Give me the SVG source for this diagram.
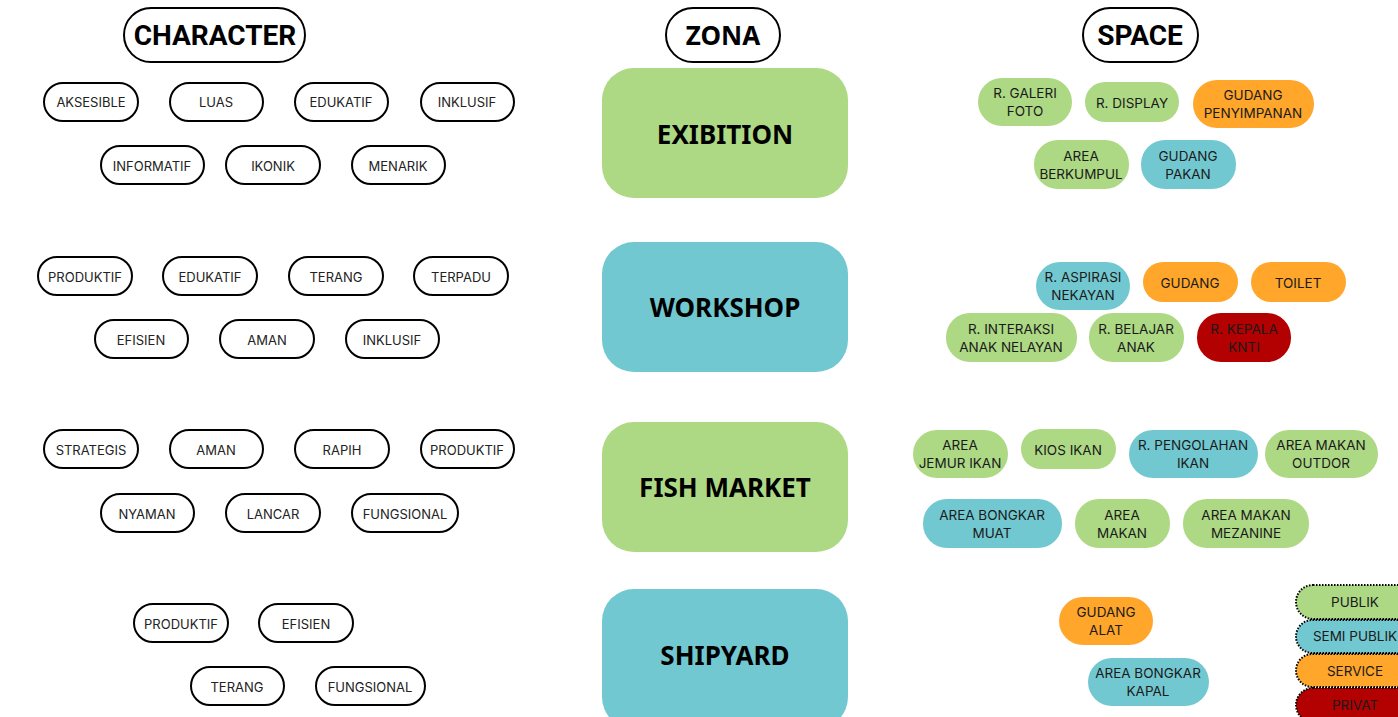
<svg xmlns="http://www.w3.org/2000/svg" width="1398" height="717" viewBox="0 0 1398 717">
<style>
.hdr{fill:#fff;stroke:#000;stroke-width:2}
.hdrt{font-family:Roboto,"Liberation Sans",sans-serif;font-weight:700;font-size:28px;text-anchor:middle;fill:#000}
.hdrz{font-family:"Noto Sans","Open Sans",sans-serif;font-weight:700;font-size:26px;text-anchor:middle;fill:#000}
.ch{fill:#fff;stroke:#000;stroke-width:2}
.cht{font-family:Inter,"Liberation Sans",sans-serif;font-size:13px;text-anchor:middle;fill:#222}
.zt{font-family:"Noto Sans","Open Sans",sans-serif;font-weight:700;font-size:26px;text-anchor:middle;fill:#000}
.g{fill:#add884}
.b{fill:#72c8d0}
.o{fill:#ffa62b}
.r{fill:#b30000}
.st{font-family:Inter,"Liberation Sans",sans-serif;font-size:13.5px;text-anchor:middle;fill:#1a1a1a}
.lg{stroke:#000;stroke-width:2;stroke-dasharray:1.5 1.5}
</style>

<g id="header-character"><rect class="hdr" x="124" y="8" width="181" height="54" rx="27"/><text class="hdrt" x="215" y="45">CHARACTER</text></g>
<g id="header-zona"><rect class="hdr" x="666" y="8" width="114" height="54" rx="27"/><text class="hdrz" x="723" y="45">ZONA</text></g>
<g id="header-space"><rect class="hdr" x="1083" y="8" width="115" height="54" rx="27"/><text class="hdrt" x="1140" y="45">SPACE</text></g>

<!-- Zones -->
<g id="zone-exibition"><rect class="g" x="602" y="68" width="246" height="130" rx="32"/><text class="zt" x="725" y="144">EXIBITION</text></g>
<g id="zone-workshop"><rect class="b" x="602" y="242" width="246" height="130" rx="32"/><text class="zt" x="725" y="317">WORKSHOP</text></g>
<g id="zone-fishmarket"><rect class="g" x="602" y="422" width="246" height="130" rx="32"/><text class="zt" x="725" y="497">FISH MARKET</text></g>
<g id="zone-shipyard"><rect class="b" x="602" y="589" width="246" height="140" rx="32"/><text class="zt" x="725" y="665">SHIPYARD</text></g>

<!-- Character: Exibition -->
<g id="c-aksesible"><rect class="ch" x="44" y="83" width="94" height="38" rx="19"/><text class="cht" x="91" y="107">AKSESIBLE</text></g>
<g id="c-luas"><rect class="ch" x="170" y="83" width="93" height="38" rx="19"/><text class="cht" x="216" y="107">LUAS</text></g>
<g id="c-edukatif1"><rect class="ch" x="295" y="83" width="93" height="38" rx="19"/><text class="cht" x="341" y="107">EDUKATIF</text></g>
<g id="c-inklusif1"><rect class="ch" x="421" y="83" width="93" height="38" rx="19"/><text class="cht" x="467" y="107">INKLUSIF</text></g>
<g id="c-informatif"><rect class="ch" x="101" y="146" width="103" height="38" rx="19"/><text class="cht" x="152" y="171">INFORMATIF</text></g>
<g id="c-ikonik"><rect class="ch" x="226" y="146" width="94" height="38" rx="19"/><text class="cht" x="273" y="171">IKONIK</text></g>
<g id="c-menarik"><rect class="ch" x="352" y="146" width="93" height="38" rx="19"/><text class="cht" x="398" y="171">MENARIK</text></g>

<!-- Character: Workshop -->
<g id="c-produktif1"><rect class="ch" x="38" y="257" width="94" height="38" rx="19"/><text class="cht" x="85" y="282">PRODUKTIF</text></g>
<g id="c-edukatif2"><rect class="ch" x="163" y="257" width="94" height="38" rx="19"/><text class="cht" x="210" y="282">EDUKATIF</text></g>
<g id="c-terang1"><rect class="ch" x="289" y="257" width="94" height="38" rx="19"/><text class="cht" x="336" y="282">TERANG</text></g>
<g id="c-terpadu"><rect class="ch" x="414" y="257" width="94" height="38" rx="19"/><text class="cht" x="461" y="282">TERPADU</text></g>
<g id="c-efisien1"><rect class="ch" x="95" y="320" width="93" height="38" rx="19"/><text class="cht" x="141" y="345">EFISIEN</text></g>
<g id="c-aman1"><rect class="ch" x="220" y="320" width="94" height="38" rx="19"/><text class="cht" x="267" y="345">AMAN</text></g>
<g id="c-inklusif2"><rect class="ch" x="346" y="320" width="93" height="38" rx="19"/><text class="cht" x="392" y="345">INKLUSIF</text></g>

<!-- Character: Fish Market -->
<g id="c-strategis"><rect class="ch" x="44" y="430" width="94" height="38" rx="19"/><text class="cht" x="91" y="455">STRATEGIS</text></g>
<g id="c-aman2"><rect class="ch" x="170" y="430" width="93" height="38" rx="19"/><text class="cht" x="216" y="455">AMAN</text></g>
<g id="c-rapih"><rect class="ch" x="295" y="430" width="94" height="38" rx="19"/><text class="cht" x="342" y="455">RAPIH</text></g>
<g id="c-produktif2"><rect class="ch" x="421" y="430" width="93" height="38" rx="19"/><text class="cht" x="467" y="455">PRODUKTIF</text></g>
<g id="c-nyaman"><rect class="ch" x="101" y="494" width="93" height="38" rx="19"/><text class="cht" x="147" y="519">NYAMAN</text></g>
<g id="c-lancar"><rect class="ch" x="226" y="494" width="94" height="38" rx="19"/><text class="cht" x="273" y="519">LANCAR</text></g>
<g id="c-fungsional1"><rect class="ch" x="352" y="494" width="106" height="38" rx="19"/><text class="cht" x="405" y="519">FUNGSIONAL</text></g>

<!-- Character: Shipyard -->
<g id="c-produktif3"><rect class="ch" x="134" y="604" width="94" height="38" rx="19"/><text class="cht" x="181" y="629">PRODUKTIF</text></g>
<g id="c-efisien2"><rect class="ch" x="259" y="604" width="94" height="38" rx="19"/><text class="cht" x="306" y="629">EFISIEN</text></g>
<g id="c-terang2"><rect class="ch" x="191" y="667" width="93" height="38" rx="19"/><text class="cht" x="237" y="692">TERANG</text></g>
<g id="c-fungsional2"><rect class="ch" x="316" y="667" width="109" height="38" rx="19"/><text class="cht" x="370" y="692">FUNGSIONAL</text></g>

<!-- Space: Exibition -->
<g id="s-galeri"><rect class="g" x="978" y="78" width="94" height="48" rx="24"/><text class="st" x="1025" y="98">R. GALERI</text><text class="st" x="1025" y="116">FOTO</text></g>
<g id="s-display"><rect class="g" x="1085" y="82" width="94" height="40" rx="20"/><text class="st" x="1132" y="108">R. DISPLAY</text></g>
<g id="s-penyimpanan"><rect class="o" x="1193" y="80" width="121" height="48" rx="24"/><text class="st" x="1253" y="100">GUDANG</text><text class="st" x="1253" y="118">PENYIMPANAN</text></g>
<g id="s-berkumpul"><rect class="g" x="1034" y="140" width="95" height="49" rx="24"/><text class="st" x="1081" y="161">AREA</text><text class="st" x="1081" y="179">BERKUMPUL</text></g>
<g id="s-pakan"><rect class="b" x="1141" y="140" width="95" height="49" rx="24"/><text class="st" x="1188" y="161">GUDANG</text><text class="st" x="1188" y="179">PAKAN</text></g>

<!-- Space: Workshop -->
<g id="s-aspirasi"><rect class="b" x="1036" y="262" width="94" height="48" rx="24"/><text class="st" x="1083" y="282">R. ASPIRASI</text><text class="st" x="1083" y="300">NEKAYAN</text></g>
<g id="s-gudang"><rect class="o" x="1143" y="262" width="95" height="40" rx="20"/><text class="st" x="1190" y="288">GUDANG</text></g>
<g id="s-toilet"><rect class="o" x="1251" y="262" width="95" height="40" rx="20"/><text class="st" x="1298" y="288">TOILET</text></g>
<g id="s-interaksi"><rect class="g" x="946" y="313" width="131" height="49" rx="24"/><text class="st" x="1011" y="334">R. INTERAKSI</text><text class="st" x="1011" y="352">ANAK NELAYAN</text></g>
<g id="s-belajar"><rect class="g" x="1089" y="313" width="95" height="49" rx="24"/><text class="st" x="1136" y="334">R. BELAJAR</text><text class="st" x="1136" y="352">ANAK</text></g>
<g id="s-kepala"><rect class="r" x="1197" y="313" width="94" height="49" rx="24"/><text class="st" x="1244" y="334">R. KEPALA</text><text class="st" x="1244" y="352">KNTI</text></g>

<!-- Space: Fish Market -->
<g id="s-jemur"><rect class="g" x="913" y="430" width="95" height="48" rx="24"/><text class="st" x="960" y="450">AREA</text><text class="st" x="960" y="468">JEMUR IKAN</text></g>
<g id="s-kios"><rect class="g" x="1021" y="429" width="95" height="40" rx="20"/><text class="st" x="1068" y="455">KIOS IKAN</text></g>
<g id="s-pengolahan"><rect class="b" x="1129" y="430" width="129" height="48" rx="24"/><text class="st" x="1193" y="450">R. PENGOLAHAN</text><text class="st" x="1193" y="468">IKAN</text></g>
<g id="s-outdor"><rect class="g" x="1265" y="430" width="113" height="48" rx="24"/><text class="st" x="1321" y="450">AREA MAKAN</text><text class="st" x="1321" y="468">OUTDOR</text></g>
<g id="s-bongkarmuat"><rect class="b" x="923" y="499" width="139" height="49" rx="24"/><text class="st" x="992" y="520">AREA BONGKAR</text><text class="st" x="992" y="538">MUAT</text></g>
<g id="s-makan"><rect class="g" x="1075" y="499" width="95" height="49" rx="24"/><text class="st" x="1122" y="520">AREA</text><text class="st" x="1122" y="538">MAKAN</text></g>
<g id="s-mezanine"><rect class="g" x="1183" y="499" width="126" height="49" rx="24"/><text class="st" x="1246" y="520">AREA MAKAN</text><text class="st" x="1246" y="538">MEZANINE</text></g>

<!-- Space: Shipyard -->
<g id="s-gudangalat"><rect class="o" x="1059" y="597" width="94" height="48" rx="24"/><text class="st" x="1106" y="617">GUDANG</text><text class="st" x="1106" y="635">ALAT</text></g>
<g id="s-bongkarkapal"><rect class="b" x="1088" y="658" width="121" height="48" rx="24"/><text class="st" x="1148" y="678">AREA BONGKAR</text><text class="st" x="1148" y="696">KAPAL</text></g>

<!-- Legend -->
<g id="legend-publik"><rect class="g lg" x="1296" y="585" width="118" height="34" rx="17"/><text class="st" x="1355" y="607">PUBLIK</text></g>
<g id="legend-semipublik"><rect class="b lg" x="1296" y="620" width="118" height="33" rx="16.5"/><text class="st" x="1355" y="641">SEMI PUBLIK</text></g>
<g id="legend-service"><rect class="o lg" x="1296" y="654" width="118" height="33" rx="16.5"/><text class="st" x="1355" y="676">SERVICE</text></g>
<g id="legend-privat"><rect class="r lg" x="1296" y="688" width="118" height="34" rx="17"/><text class="st" x="1355" y="710">PRIVAT</text></g>

<g id="connectors"></g>
</svg>
